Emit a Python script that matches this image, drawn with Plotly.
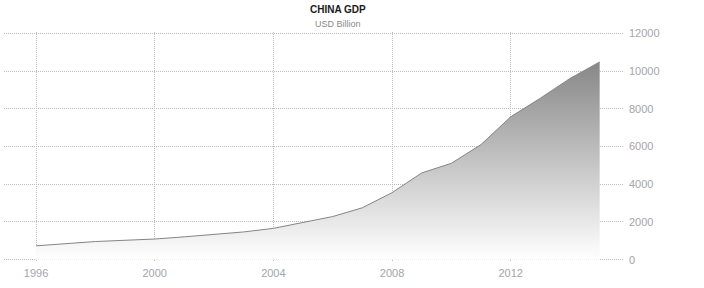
import plotly.graph_objects as go

years = list(range(1996, 2016))
gdp = [734.5, 863.7, 961.6, 1029, 1094, 1211, 1339, 1471, 1660, 1955,
       2286, 2752, 3552, 4598, 5110, 6101, 7573, 8561, 9607, 10482]
x_ticks = [1996, 2000, 2004, 2008, 2012]
y_ticks = [0, 2000, 4000, 6000, 8000, 10000, 12000]
title = "CHINA GDP"
subtitle = "USD Billion"

fig = go.Figure()
fig.add_trace(go.Scatter(
    x=years, y=gdp, mode="lines",
    line=dict(color="#858585", width=1),
    fill="tozeroy",
    fillgradient=dict(type="vertical", start=0, stop=max(gdp),
                      colorscale=[[0, "#ffffff"], [1, "#878787"]]),
    hoverinfo="x+y",
))

tick_font = dict(family="Liberation Sans, Arial, sans-serif", size=11, color="#a4a4ae")
grid = dict(showgrid=True, gridcolor="#bdbdbd", griddash="1px,1px", gridwidth=1,
            zeroline=False, showline=False, ticks="", tickfont=tick_font, ticklabelstandoff=4)
fig.update_layout(
    width=704, height=288,
    margin=dict(l=4, r=80, t=32, b=27),
    paper_bgcolor="white", plot_bgcolor="white",
    showlegend=False,
    xaxis=dict(range=[1994.92, 2015.82], tickvals=x_ticks, ticktext=[str(v) for v in x_ticks], **grid),
    yaxis=dict(range=[-70, 12070], tickvals=y_ticks, ticktext=[str(v) for v in y_ticks],
               side="right", **grid),
    annotations=[
        dict(text="<b>" + title + "</b>", xref="paper", yref="paper", x=0.5387, y=1.1, xanchor="center",
             yanchor="middle", showarrow=False,
             font=dict(family="Liberation Sans, Arial, sans-serif", size=10, color="#1a1a1a")),
        dict(text=subtitle, xref="paper", yref="paper", x=0.5387, y=1.037, xanchor="center",
             yanchor="middle", showarrow=False,
             font=dict(family="Liberation Sans, Arial, sans-serif", size=9, color="#8a8a8a")),
    ],
)
fig.write_html("out.html")
